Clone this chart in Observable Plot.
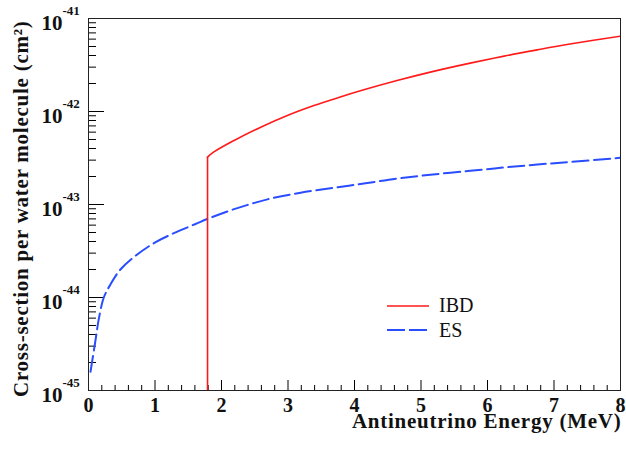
<!DOCTYPE html>
<html>
<head>
<meta charset="utf-8">
<script src="https://cdn.jsdelivr.net/npm/d3@7"></script>
<script src="https://cdn.jsdelivr.net/npm/@observablehq/plot@0.6"></script>
<style>
  html, body { margin: 0; padding: 0; background: #fff; }
  #chart svg { display: block; }
  #chart svg .axis-title { letter-spacing: 0.75px; }
</style>
</head>
<body>
<div id="chart"></div>
<script>
// Inverse beta decay (IBD) cross-section per water molecule, cm^2 vs antineutrino energy (MeV).
// The first point is the reaction threshold.
const ibdEnergy = [1.79, 1.88, 2.19, 2.59, 2.99, 3.39, 3.74, 4.14, 4.64, 5.14, 5.74, 6.25, 6.75, 7.24, 8.0];
const ibdSigma  = [3.23e-43, 3.65e-43, 4.88e-43, 6.78e-43, 9.06e-43, 1.16e-42, 1.40e-42, 1.71e-42,
                   2.15e-42, 2.65e-42, 3.31e-42, 3.94e-42, 4.60e-42, 5.31e-42, 6.46e-42];

// Elastic scattering (ES) on electrons, per water molecule
const esEnergy = [0.03, 0.105, 0.155, 0.23, 0.33, 0.48, 0.71, 1.01, 1.31, 1.61, 1.79, 2.19, 2.69, 3.19,
                  3.69, 4.14, 4.64, 5.14, 5.74, 6.25, 6.75, 7.24, 8.0];
const esSigma  = [1.59e-45, 3.47e-45, 5.89e-45, 1.00e-44, 1.38e-44, 2.00e-44, 2.82e-44, 3.94e-44, 5.01e-44,
                  6.17e-44, 7.00e-44, 8.91e-44, 1.135e-43, 1.34e-43, 1.51e-43, 1.68e-43, 1.90e-43, 2.09e-43,
                  2.30e-43, 2.50e-43, 2.69e-43, 2.87e-43, 3.18e-43];

// Axis ticks and labels
const xTicks = [0, 1, 2, 3, 4, 5, 6, 7, 8];
const yDecades = [-45, -44, -43, -42, -41];
const yExponentLabels = ["-45", "-44", "-43", "-42", "-41"];
const xTitle = "Antineutrino Energy (MeV)";
const yTitle = "Cross-section per water molecule (cm\u00B2)";
const seriesNames = ["IBD", "ES"];

const ibd = ibdEnergy.map((e, i) => ({e, s: ibdSigma[i]}));
const es = esEnergy.map((e, i) => ({e, s: esSigma[i]}));

const yMin = Math.pow(10, yDecades[0]);
const yMax = Math.pow(10, yDecades[yDecades.length - 1]);
const yMajor = yDecades.map(d => Math.pow(10, d));
const yMinor = yDecades.slice(0, -1).flatMap(d => d3.range(2, 10).map(k => k * Math.pow(10, d)));
const xMinor = d3.range(0, 40).map(i => i * 0.2).filter((v, i) => i % 5 !== 0);

const W = 626, H = 449;
const mL = 88, mR = 6, mT = 18, mB = 59;
const frameW = W - mL - mR, frameH = H - mT - mB;
const serif = "'Liberation Serif', 'Times New Roman', serif";
const red = "#ff1a1a", blue = "#2a4dff";

const chart = Plot.plot({
  width: W,
  height: H,
  marginLeft: mL,
  marginRight: mR,
  marginTop: mT,
  marginBottom: mB,
  style: {background: "#fff", fontFamily: serif},
  x: {domain: [xTicks[0], xTicks[xTicks.length - 1]], axis: null},
  y: {type: "log", domain: [yMin, yMax], axis: null},
  marks: [
    // inward tick marks
    Plot.tickY(yMajor, {y: d => d, insetRight: frameW - 16, stroke: "#000", strokeWidth: 1}),
    Plot.tickY(yMinor, {y: d => d, insetRight: frameW - 8, stroke: "#000", strokeWidth: 1}),
    Plot.tickX(xTicks, {x: d => d, insetTop: frameH - 10, stroke: "#000", strokeWidth: 1}),
    Plot.tickX(xMinor, {x: d => d, insetTop: frameH - 5, stroke: "#000", strokeWidth: 1}),

    // ES curve
    Plot.line(es, {x: "e", y: "s", stroke: blue, strokeWidth: 2, strokeDasharray: "16,5.5",
      clip: true, curve: "catmull-rom"}),
    // IBD: vertical rise at threshold, then the curve
    Plot.ruleX(ibd.slice(0, 1), {x: "e", y1: yMin, y2: "s", stroke: red, strokeWidth: 1.6}),
    Plot.line(ibd, {x: "e", y: "s", stroke: red, strokeWidth: 1.6, clip: true, curve: "catmull-rom"}),

    Plot.frame({stroke: "#222", strokeWidth: 1}),

    // x tick labels
    Plot.text(xTicks, {x: d => d, frameAnchor: "bottom", dy: 15, text: d => String(d),
      fontSize: 20, fontWeight: "bold", fill: "#111", lineAnchor: "middle"}),
    // y tick labels: 10 with exponent
    Plot.text(yMajor, {y: d => d, frameAnchor: "left", dx: -26, dy: 5, text: () => "10",
      textAnchor: "end", fontSize: 21, fontWeight: "bold", fill: "#111", lineAnchor: "middle"}),
    Plot.text(yMajor, {y: d => d, frameAnchor: "left", dx: -26, dy: -7.5, text: (d, i) => yExponentLabels[i],
      textAnchor: "start", fontSize: 13, fontWeight: "bold", fill: "#111", lineAnchor: "middle"}),

    // axis titles
    Plot.text([xTitle], {frameAnchor: "bottom-right", dx: 1, dy: 31, text: d => d, textAnchor: "end",
      fontSize: 21, fontWeight: "bold", fill: "#111", lineAnchor: "middle", className: "axis-title"}),
    Plot.text([yTitle], {frameAnchor: "top-left", dx: -67, dy: 2, text: d => d, textAnchor: "end",
      rotate: -90, fontSize: 21, fontWeight: "bold", fill: "#111", lineAnchor: "middle", className: "axis-title"})
  ]
});

// legend
const svg = d3.select(chart);
const lg = svg.append("g").attr("font-family", serif).attr("font-size", 20)
  .attr("fill", "#111").attr("text-anchor", "start");
lg.append("line").attr("x1", 387).attr("x2", 429).attr("y1", 306).attr("y2", 306)
  .attr("stroke", red).attr("stroke-width", 1.6);
lg.append("text").attr("x", 439).attr("y", 312).text(seriesNames[0]);
lg.append("line").attr("x1", 387).attr("x2", 427).attr("y1", 330).attr("y2", 330)
  .attr("stroke", blue).attr("stroke-width", 2).attr("stroke-dasharray", "18,4");
lg.append("text").attr("x", 439).attr("y", 337).text(seriesNames[1]);

document.getElementById("chart").appendChild(chart);
</script>
</body>
</html>
